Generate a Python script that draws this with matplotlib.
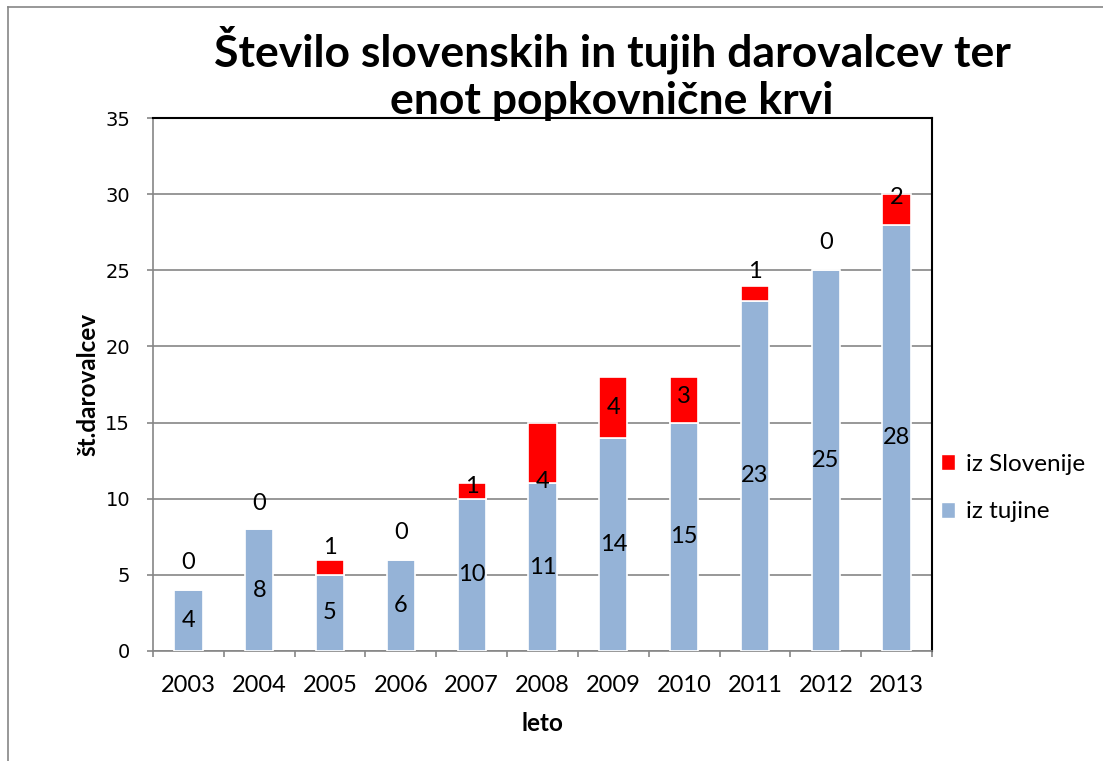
import matplotlib
matplotlib.use("Agg")
import matplotlib.pyplot as plt
from matplotlib.lines import Line2D
from matplotlib.patches import Patch
import numpy as np

years = ["2003", "2004", "2005", "2006", "2007", "2008",
         "2009", "2010", "2011", "2012", "2013"]
iz_tujine = [4, 8, 5, 6, 10, 11, 14, 15, 23, 25, 28]
iz_slovenije = [0, 0, 1, 0, 1, 4, 4, 3, 1, 0, 2]

title = "Število slovenskih in tujih darovalcev ter\nenot popkovnične krvi"
y_label = "št.darovalcev"
x_label = "leto"

BLUE = "#95B3D7"
RED = "#FF0000"
GRID = "#868686"
FONT = "Lato"

# where the red labels sit, relative to the top of the stack (hand placed in the original)
red_label_shift = [1.8, 1.7, 0.8, 1.8, -0.2, -3.9, -2.0, -1.3, 0.9, 1.8, -0.2]

fig = plt.figure(figsize=(11.03, 7.61), dpi=100)
ax = fig.add_axes([153 / 1103, 1 - 651 / 761, (932 - 153) / 1103, (651 - 118) / 761])

x = np.arange(len(years))
w = 0.4
ax.bar(x, iz_tujine, w, color=BLUE, edgecolor="white", linewidth=1.2, zorder=3)
ax.bar(x, iz_slovenije, w, bottom=iz_tujine, color=RED, edgecolor="white",
       linewidth=1.2, zorder=3)

for i in range(len(years)):
    ax.text(x[i], iz_tujine[i] / 2, str(iz_tujine[i]), ha="center", va="center",
            fontsize=17, family=FONT, zorder=5)
    top = iz_tujine[i] + iz_slovenije[i]
    ax.text(x[i], top + red_label_shift[i], str(iz_slovenije[i]), ha="center",
            va="center", fontsize=17, family=FONT, zorder=5)

ax.set_xlim(-0.5, len(years) - 0.5)
ax.set_ylim(0, 35)
ax.set_yticks(np.arange(0, 36, 5))
ax.set_xticks(x)
ax.set_xticklabels(years, family=FONT, fontsize=17)
ax.set_xticks(np.arange(-0.5, len(years), 1), minor=True)
ax.tick_params(axis="x", which="major", length=0, pad=17)
ax.tick_params(axis="x", which="minor", length=4.5, color=GRID, width=1.2)
ax.tick_params(axis="y", length=4.5, color=GRID, width=1.2, labelsize=14, pad=12)
ax.yaxis.grid(True, color=GRID, linewidth=1.2, zorder=0)
ax.set_axisbelow(True)

for s in ["left", "bottom"]:
    ax.spines[s].set_color(GRID)
    ax.spines[s].set_linewidth(1.2)
for s in ["top", "right"]:
    ax.spines[s].set_color("black")
    ax.spines[s].set_linewidth(1.5)

ax.set_ylabel(y_label, family=FONT, fontsize=17.5, fontweight="bold", labelpad=4)
ax.set_xlabel(x_label, family=FONT, fontsize=17.5, fontweight="bold", labelpad=12)

fig.text(612 / 1103, 1 - 73 / 761, title, ha="center", va="center", fontsize=32,
         fontweight="bold", family=FONT, linespacing=1.22, zorder=10)

handles = [Patch(facecolor=RED, edgecolor="white"),
           Patch(facecolor=BLUE, edgecolor="white")]
fig.legend(handles, ["iz Slovenije", "iz tujine"], loc="center left",
           bbox_to_anchor=(919 / 1103, 1 - 488 / 761), frameon=False,
           prop={"family": FONT, "size": 17.5}, handlelength=0.6, handleheight=0.6,
           handletextpad=0.45, labelspacing=1.1)

# outer chart border (cut off at right and bottom)
fig.add_artist(Line2D([8 / 1103, 8 / 1103], [0, 1 - 7 / 761], color=GRID, linewidth=1.2))
fig.add_artist(Line2D([8 / 1103, 1], [1 - 7 / 761, 1 - 7 / 761], color=GRID, linewidth=1.2))

fig.savefig("out.png", dpi=100)
